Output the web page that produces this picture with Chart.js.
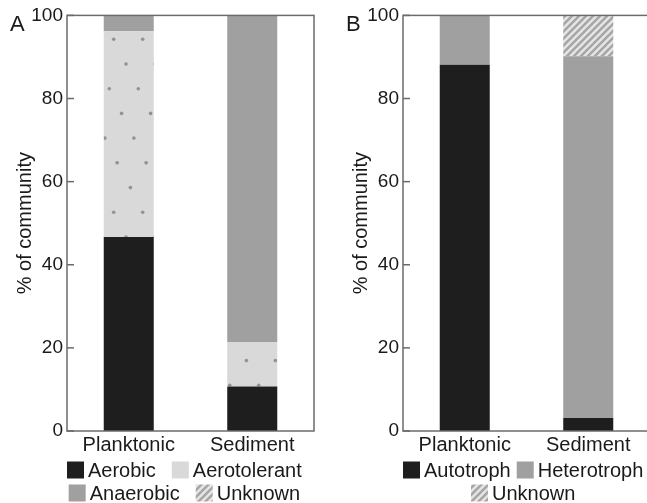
<!DOCTYPE html>
<html>
<head>
<meta charset="utf-8">
<script src="https://cdn.jsdelivr.net/npm/chart.js@4.4.1/dist/chart.umd.min.js"></script>
<style>
  html, body { margin: 0; padding: 0; background: #fff; overflow: hidden; }
  #wrap { position: relative; width: 647px; height: 503px; overflow: hidden; }
  .panel { position: absolute; top: 0; width: 336px; height: 503px; }
</style>
</head>
<body>
<div id="wrap">
  <div class="panel" style="left:0"><canvas id="chartA" width="336" height="503"></canvas></div>
  <div class="panel" style="left:336px"><canvas id="chartB" width="336" height="503"></canvas></div>
</div>
<script>
// data (% of community)
const categories = ["Planktonic", "Sediment"];
const yTicks = [0, 20, 40, 60, 80, 100];

// panel A: oxygen tolerance
const aerobic = [46.7, 10.7];
const aerotolerant = [49.5, 10.7];
const anaerobic = [3.8, 78.6];
const unknownA = [0, 0];

// panel B: trophic mode
const autotroph = [88.1, 3.1];
const heterotroph = [11.9, 87.1];
const unknownB = [0, 9.8];

const FONT = "'Liberation Sans', Arial, sans-serif";
const TEXT = "#1a1a1a";
const DARK = "#1e1e1e";
const MID = "#a0a0a0";

// dotted fill for aerotolerant (rows shift sideways, like the original)
function dotPattern() {
  var c = document.createElement("canvas");
  c.width = 29; c.height = 173;
  var g = c.getContext("2d");
  g.fillStyle = "#d9d9d9";
  g.fillRect(0, 0, 29, 173);
  g.fillStyle = "#929292";
  for (var k = 0; k < 7; k++) {
    var x = (14.4 + 12.3 * k) % 29, y = 14.6 + 24.7 * k;
    [x - 29, x, x + 29].forEach(function (xx) {
      g.beginPath();
      g.arc(xx, y, 1.8, 0, Math.PI * 2);
      g.fill();
    });
  }
  return g.createPattern(c, "repeat");
}

// diagonal hatch for unknown
function hatchPattern() {
  var c = document.createElement("canvas");
  c.width = 7; c.height = 7;
  var g = c.getContext("2d");
  g.fillStyle = "#e6e6e6";
  g.fillRect(0, 0, 7, 7);
  g.strokeStyle = "#a6a6a6";
  g.lineWidth = 2.6;
  g.beginPath();
  g.moveTo(-1, 8); g.lineTo(8, -1);
  g.moveTo(-4.5, 4.5); g.lineTo(4.5, -4.5);
  g.moveTo(2.5, 11.5); g.lineTo(11.5, 2.5);
  g.stroke();
  return g.createPattern(c, "repeat");
}

const dots = dotPattern();
const hatch = hatchPattern();

// frame, inward ticks, panel letter and legend
const framePlugin = {
  id: "frame",
  afterDatasetsDraw(chart) {
    var ctx = chart.ctx, a = chart.chartArea, y = chart.scales.y;
    ctx.save();
    ctx.strokeStyle = "#6b6b6b";
    ctx.lineWidth = 1.5;
    y.ticks.forEach(function (t) {
      var py = y.getPixelForValue(t.value);
      ctx.beginPath();
      ctx.moveTo(a.left, py);
      ctx.lineTo(a.left + 7, py);
      ctx.stroke();
    });
    ctx.strokeRect(a.left, a.top, a.right - a.left, a.bottom - a.top);
    ctx.restore();
  },
  afterDraw(chart, args, opts) {
    var ctx = chart.ctx, a = chart.chartArea;
    ctx.save();
    ctx.fillStyle = TEXT;
    ctx.font = "22px " + FONT;
    ctx.textAlign = "left";
    ctx.textBaseline = "middle";
    ctx.fillText(opts.letter, 10, 25);

    // legend: first row starts at the plot's left edge, later rows centred under it
    ctx.font = "20px " + FONT;
    var box = 17, gap = 4, itemGap = opts.itemGap, rowH = 23;
    var items = chart.data.datasets.map(function (d) {
      return { text: d.label, fill: d.backgroundColor, w: box + gap + ctx.measureText(d.label).width };
    });
    var maxW = chart.width - a.left;
    var rows = [[]], rowW = [0];
    items.forEach(function (it) {
      var r = rows.length - 1;
      var w = rowW[r] + (rows[r].length ? itemGap : 0) + it.w;
      if (rows[r].length && w > maxW) {
        rows.push([it]); rowW.push(it.w);
      } else {
        rows[r].push(it); rowW[r] = w;
      }
    });
    var cx = a.left + rowW[0] / 2;
    rows.forEach(function (row, i) {
      var x = cx - rowW[i] / 2;
      var yc = a.bottom + 39 + i * rowH;
      row.forEach(function (it) {
        ctx.fillStyle = it.fill;
        ctx.fillRect(x, yc - box / 2, box, box);
        ctx.fillStyle = TEXT;
        ctx.fillText(it.text, x + box + gap, yc + 1);
        x += it.w + itemGap;
      });
    });
    ctx.restore();
  }
};

function makeChart(id, letter, itemGap, datasets) {
  return new Chart(document.getElementById(id).getContext("2d"), {
    type: "bar",
    data: { labels: categories, datasets: datasets },
    plugins: [framePlugin],
    options: {
      responsive: false,
      animation: false,
      layout: { padding: { top: 15, right: 22, bottom: 44, left: 0 } },
      datasets: { bar: { categoryPercentage: 1, barPercentage: 0.405, borderWidth: 0 } },
      plugins: {
        legend: { display: false },
        tooltip: { enabled: false },
        frame: { letter: letter, itemGap: itemGap }
      },
      scales: {
        x: {
          stacked: true,
          grid: { display: false, drawTicks: false },
          border: { display: false },
          ticks: { color: TEXT, font: { family: FONT, size: 20 }, padding: 2, maxRotation: 0 },
          afterFit: function (s) { s.height = 28; }
        },
        y: {
          stacked: true,
          min: 0,
          max: 100,
          grid: { display: false, drawTicks: false },
          border: { display: false },
          afterBuildTicks: function (s) { s.ticks = yTicks.map(function (v) { return { value: v }; }); },
          ticks: { color: TEXT, font: { family: FONT, size: 19 }, padding: 4 },
          title: {
            display: true,
            text: "% of community",
            color: TEXT,
            font: { family: FONT, size: 20 },
            padding: { top: 13, bottom: 0 }
          },
          afterFit: function (s) { s.width = 67; }
        }
      }
    }
  });
}

makeChart("chartA", "A", 16, [
  { label: "Aerobic", data: aerobic, backgroundColor: DARK },
  { label: "Aerotolerant", data: aerotolerant, backgroundColor: dots },
  { label: "Anaerobic", data: anaerobic, backgroundColor: MID },
  { label: "Unknown", data: unknownA, backgroundColor: hatch }
]);

makeChart("chartB", "B", 6, [
  { label: "Autotroph", data: autotroph, backgroundColor: DARK },
  { label: "Heterotroph", data: heterotroph, backgroundColor: MID },
  { label: "Unknown", data: unknownB, backgroundColor: hatch }
]);
</script>
</body>
</html>
